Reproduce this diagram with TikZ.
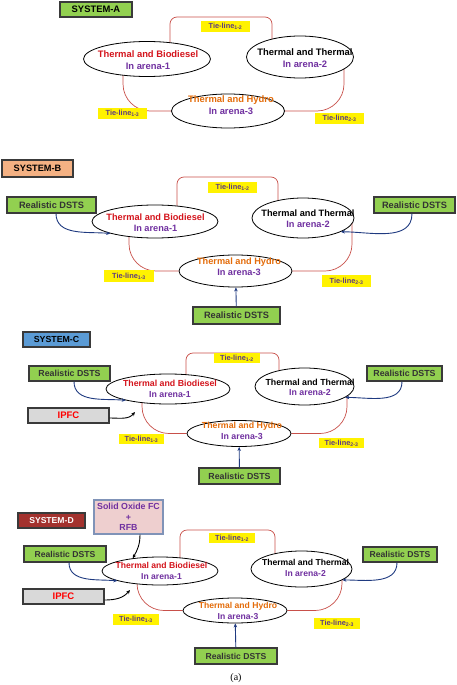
\documentclass[tikz,border=0pt]{standalone}
\usepackage{fontspec}
\setmainfont{Liberation Sans}
\newfontfamily\capfont{Liberation Serif}
\usetikzlibrary{calc,positioning,arrows.meta,shapes.geometric}
\pgfdeclarelayer{back}
\pgfsetlayers{back,main}

\definecolor{grnfill}{HTML}{92D050}
\definecolor{orgfill}{HTML}{F4B183}
\definecolor{bluefill}{HTML}{5B9BD5}
\definecolor{darkred}{HTML}{A3322E}
\definecolor{grayfill}{HTML}{D9D9D9}
\definecolor{pinkfill}{HTML}{EECFCF}
\definecolor{pinkedge}{HTML}{8093B8}
\definecolor{boxedge}{HTML}{3A3A3A}
\definecolor{tiered}{HTML}{C8504A}
\definecolor{arrblue}{HTML}{1F3A80}
\definecolor{arenapurple}{HTML}{7030A0}
\definecolor{tiepurple}{HTML}{5E3C80}
\definecolor{biored}{HTML}{D4141C}
\definecolor{hydroorange}{HTML}{E46C0A}

\begin{document}
\begin{tikzpicture}[x=1pt,y=1pt,
  sz/.style={font=\bfseries\fontsize{9.4}{11.4}\selectfont},
  arena/.style={ellipse,draw=black,fill=white,line width=.8pt,inner sep=0pt},
  arenatxt/.style={sz,text=arenapurple,align=center,inner sep=0pt},
  sysbox/.style={rectangle,draw=boxedge,line width=1.2pt,sz,inner sep=0pt},
  dsts/.style={rectangle,draw=boxedge,fill=grnfill,line width=1.2pt,sz,text=black!80,inner sep=0pt},
  ipfc/.style={rectangle,draw=boxedge,fill=grayfill,line width=1.2pt,text=red,font=\bfseries\fontsize{9.5}{11}\selectfont,inner sep=0pt},
  tielab/.style={rectangle,fill=yellow,text=tiepurple,font=\bfseries\fontsize{7.4}{9}\selectfont,inner sep=0pt},
  tie/.style={draw=tiered,line width=.7pt,rounded corners=7pt},
  tielong/.style={tie,rounded corners=27pt},
  dstsarr/.style={draw=arrblue,line width=.9pt,-{Stealth[length=4pt,width=3.5pt]}},
  blkarr/.style={draw=black,line width=.9pt,-{Stealth[length=4pt,width=3.5pt]}},
  ]
  \useasboundingbox (0,0) rectangle (456,-685);

  %% system A
  \begin{scope}[sz/.style={font=\bfseries\fontsize{9.4}{11.4}\selectfont}]
  \node (sys_a) [sysbox,fill=grnfill,minimum width=72pt,minimum height=15pt] at (96,-9.5) {SYSTEM-A};

  \node (ea1) [arena,minimum width=127pt,minimum height=35pt] at (147,-59) {};
  \node (ea2) [arena,minimum width=107pt,minimum height=42pt] at (300,-57) {};
  \node (ea3) [arena,minimum width=113pt,minimum height=34pt] at (228,-111) {};
  \node (ta1) [arenatxt] at (148,-60) {\textcolor{biored}{Thermal and Biodiesel}\\In arena-1};
  \node (ta2) [arenatxt] at (305,-58) {\textcolor{black}{Thermal and Thermal}\\In arena-2};
  \node (ta3) [arenatxt] at (231,-105) {\textcolor{hydroorange}{Thermal and Hydro}\\In arena-3};

  \begin{pgfonlayer}{back}
    \draw[tie] ($(ea1)+(23,0)$) |- (225,-17) -| ($(ea2)+(-28,0)$);
    \draw[tielong] ($(ea1)+(-24,0)$) |- (ea3);
    \draw[tielong] ($(ea2)+(44,0)$) |- (ea3);
  \end{pgfonlayer}

  \node (la12) [tielab,minimum width=49pt,minimum height=11pt] at (225.5,-26.5) {Tie-line\textsubscript{1-2}};
  \node (la13) [tielab,minimum width=49pt,minimum height=11pt] at (122.5,-113.5) {Tie-line\textsubscript{1-3}};
  \node (la23) [tielab,minimum width=49pt,minimum height=11pt] at (339.5,-118.5) {Tie-line\textsubscript{2-3}};
  \end{scope}

  %% system B
  \begin{scope}[sz/.style={font=\bfseries\fontsize{9.2}{11.2}\selectfont}]
  \node (sys_b) [sysbox,fill=orgfill,minimum width=71pt,minimum height=17pt] at (37.5,-168.5) {SYSTEM-B};

  \node (eb1) [arena,minimum width=126pt,minimum height=33pt] at (155,-221.5) {};
  \node (eb2) [arena,minimum width=102pt,minimum height=40pt] at (303,-218) {};
  \node (eb3) [arena,minimum width=113pt,minimum height=32pt] at (235.5,-271) {};
  \node (tb1) [arenatxt] at (155.5,-223) {\textcolor{biored}{Thermal and Biodiesel}\\In arena-1};
  \node (tb2) [arenatxt] at (308,-219) {\textcolor{black}{Thermal and Thermal}\\In arena-2};
  \node (tb3) [arenatxt] at (239,-267) {\textcolor{hydroorange}{Thermal and Hydro}\\In arena-3};

  \begin{pgfonlayer}{back}
    \draw[tie] ($(eb1)+(22,0)$) |- (230,-177) -| ($(eb2)+(-25,0)$);
    \draw[tielong] ($(eb1)+(-26,0)$) |- (eb3);
    \draw[tielong] ($(eb2)+(49,0)$) |- (eb3);
  \end{pgfonlayer}

  \node (lb12) [tielab,minimum width=49pt,minimum height=11pt] at (232.5,-187.5) {Tie-line\textsubscript{1-2}};
  \node (lb13) [tielab,minimum width=50pt,minimum height=12pt] at (129,-276) {Tie-line\textsubscript{1-3}};
  \node (lb23) [tielab,minimum width=49pt,minimum height=12pt] at (346.5,-281) {Tie-line\textsubscript{2-3}};

  \node (dsb1) [dsts,minimum width=89pt,minimum height=16pt] at (51.5,-205) {Realistic DSTS};
  \node (dsb2) [dsts,minimum width=81pt,minimum height=16pt] at (414.5,-205) {Realistic DSTS};
  \node (dsb3) [dsts,minimum width=87pt,minimum height=17pt] at (236.5,-315.5) {Realistic DSTS};
  \draw[dstsarr] ($(dsb1.south)+(4.5,0)$) to[out=-90,in=175] (eb1.195);
  \draw[dstsarr] ($(dsb2.south)+(-2.5,0)$) to[out=-90,in=0] (eb2.-20);
  \draw[dstsarr] (dsb3) -- (eb3);
  \end{scope}

  %% system C
  \begin{scope}[sz/.style={font=\bfseries\fontsize{8.8}{10.6}\selectfont}]
  \node (sys_c) [sysbox,fill=bluefill,minimum width=67pt,minimum height=15pt] at (56.5,-339.5) {SYSTEM-C};

  \node (ec1) [arena,minimum width=124pt,minimum height=30pt] at (168,-389) {};
  \node (ec2) [arena,minimum width=99pt,minimum height=37pt] at (304.5,-386.5) {};
  \node (ec3) [arena,minimum width=104pt,minimum height=26pt] at (239,-433.5) {};
  \node (tc1) [arenatxt] at (170,-389) {\textcolor{biored}{Thermal and Biodiesel}\\In arena-1};
  \node (tc2) [arenatxt] at (310,-387.5) {\textcolor{black}{Thermal and Thermal}\\In arena-2};
  \node (tc3) [arenatxt] at (242,-431) {\textcolor{hydroorange}{Thermal and Hydro}\\In arena-3};

  \begin{pgfonlayer}{back}
    \draw[tie] ($(ec1)+(18,0)$) |- (230,-353) -| ($(ec2)+(-25.5,0)$);
    \draw[tielong] ($(ec1)+(-26,0)$) |- (ec3);
    \draw[tielong] ($(ec2)+(42.5,0)$) |- (ec3);
  \end{pgfonlayer}

  \node (lc12) [tielab,minimum width=46pt,minimum height=10pt] at (237,-358) {Tie-line\textsubscript{1-2}};
  \node (lc13) [tielab,minimum width=45pt,minimum height=10pt] at (141.5,-439) {Tie-line\textsubscript{1-3}};
  \node (lc23) [tielab,minimum width=45pt,minimum height=10pt] at (341.5,-443) {Tie-line\textsubscript{2-3}};

  \node (dsc1) [dsts,minimum width=81pt,minimum height=15pt] at (69.5,-373.5) {Realistic DSTS};
  \node (dsc2) [dsts,minimum width=75pt,minimum height=15pt] at (404.5,-373.5) {Realistic DSTS};
  \node (dsc3) [dsts,minimum width=81pt,minimum height=16pt] at (239.5,-476) {Realistic DSTS};
  \draw[dstsarr] ($(dsc1.south)+(4.5,0)$) to[out=-90,in=175] (ec1.195);
  \draw[dstsarr] ($(dsc2.south)+(-2.5,0)$) to[out=-90,in=0] (ec2.-15);
  \draw[dstsarr] (dsc3) -- (ec3);

  \node (ipc) [ipfc,minimum width=81pt,minimum height=15pt] at (68.5,-415.5) {IPFC};
  \coordinate (ipt_c) at (135,-412);
  \draw[blkarr] ($(ipc.east)+(0,-2.5)$) to[out=0,in=-130] (ipt_c);
  \end{scope}

  %% system D
  \begin{scope}[sz/.style={font=\bfseries\fontsize{8.6}{10.4}\selectfont}]
  \node (sys_d) [sysbox,fill=darkred,text=white,minimum width=67pt,minimum height=15pt] at (51.5,-520.5) {SYSTEM-D};
  \node (sofc) [rectangle,draw=pinkedge,fill=pinkfill,line width=1.2pt,text=arenapurple,align=center,inner sep=0pt,
    font=\bfseries\fontsize{8.8}{10.5}\selectfont,minimum width=69pt,minimum height=34pt] at (128.5,-517) {Solid Oxide FC\\+\\RFB};

  \node (ed1) [arena,minimum width=116pt,minimum height=28pt] at (160,-571) {};
  \node (ed2) [arena,minimum width=101pt,minimum height=36pt] at (301.5,-569) {};
  \node (ed3) [arena,minimum width=104pt,minimum height=25pt] at (235,-610.5) {};
  \node (td1) [arenatxt] at (161.5,-571) {\textcolor{biored}{Thermal and Biodiesel}\\In arena-1};
  \node (td2) [arenatxt] at (305.5,-568) {\textcolor{black}{Thermal and Thermal}\\In arena-2};
  \node (td3) [arenatxt] at (238,-611) {\textcolor{hydroorange}{Thermal and Hydro}\\In arena-3};

  \begin{pgfonlayer}{back}
    \draw[tie] ($(ed1)+(20,0)$) |- (230,-530) -| ($(ed2)+(-26.5,0)$);
    \draw[tielong] ($(ed1)+(-23,0)$) |- (ed3);
    \draw[tielong] ($(ed2)+(40.5,0)$) |- (ed3);
  \end{pgfonlayer}

  \node (ld12) [tielab,minimum width=46pt,minimum height=10pt] at (232,-538) {Tie-line\textsubscript{1-2}};
  \node (ld13) [tielab,minimum width=46pt,minimum height=11pt] at (136,-619.5) {Tie-line\textsubscript{1-3}};
  \node (ld23) [tielab,minimum width=46pt,minimum height=11pt] at (337,-623.5) {Tie-line\textsubscript{2-3}};

  \node (dsd1) [dsts,minimum width=82pt,minimum height=16pt] at (65,-554) {Realistic DSTS};
  \node (dsd2) [dsts,minimum width=74pt,minimum height=15pt] at (400,-554.5) {Realistic DSTS};
  \node (dsd3) [dsts,minimum width=82pt,minimum height=16pt] at (236,-656) {Realistic DSTS};
  \draw[dstsarr] ($(dsd1.south)+(4,0)$) to[out=-90,in=175] (ed1.193);
  \draw[dstsarr] ($(dsd2.south)+(-3,0)$) to[out=-90,in=0] (ed2.-15);
  \draw[dstsarr] (dsd3) -- (ed3);

  \node (ipd) [ipfc,minimum width=81pt,minimum height=15pt] at (63.5,-596.5) {IPFC};
  \coordinate (ipt_d) at (130,-590);
  \draw[blkarr] ($(ipd.east)+(0,-3.5)$) to[out=0,in=-130] (ipt_d);
  \draw[blkarr] ($(sofc.south)+(11.5,0)$) to[out=-90,in=60] (ed1.155);
  \end{scope}

  \node (cap) [font=\capfont\fontsize{10}{12}\selectfont] at (236,-678) {(a)};
\end{tikzpicture}
\end{document}
